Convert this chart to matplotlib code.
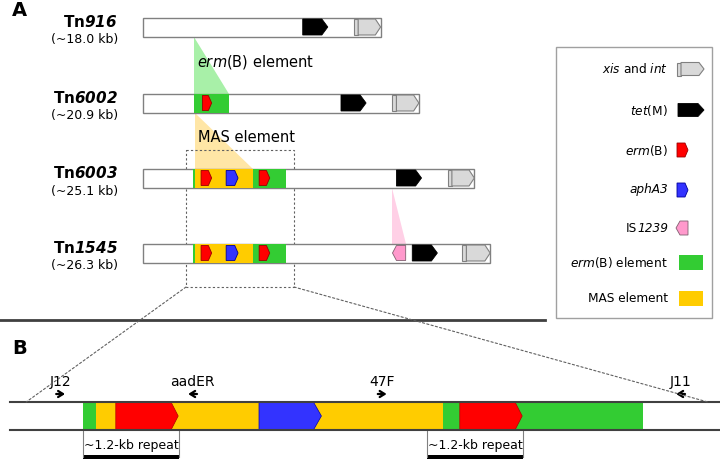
import matplotlib
matplotlib.use('Agg')
import matplotlib.pyplot as plt
from matplotlib.patches import Polygon, Rectangle
from matplotlib.patches import ConnectionPatch

plt.rcParams['font.family'] = 'DejaVu Sans'
plt.rcParams['mathtext.fontset'] = 'custom'
plt.rcParams['mathtext.rm'] = 'DejaVu Sans'
plt.rcParams['mathtext.it'] = 'DejaVu Sans:italic'
plt.rcParams['mathtext.bf'] = 'DejaVu Sans:bold'
plt.rcParams['mathtext.bfit'] = 'DejaVu Sans:italic:bold'

# ---- data (kb) ----
tn_names = ['916', '6002', '6003', '1545']
tn_sizes = [18.0, 20.9, 25.1, 26.3]
tetM_start = [12.1, 15.0, 19.2, 20.4]
tetM_len = 1.9
xis_start = [16.0, 18.9, 23.1, 24.2]
ermB_elem = [None, (3.86, 6.5), (3.79, 10.83), (3.79, 10.83)]
mas_elem = [None, None, (3.94, 8.33), (3.94, 8.33)]
ermB_genes = [[], [(4.5, 5.2)], [(4.4, 5.2), (8.8, 9.6)], [(4.4, 5.2), (8.8, 9.6)]]
aphA3_genes = [[], [], [(6.3, 7.2)], [(6.3, 7.2)]]
is1239_genes = [[], [], [], [(18.9, 19.9)]]
zoom_kb = (3.26, 11.44)

# panel B (kb, from left end of first repeat)
b_track = (-0.91, 7.96)
b_green = (0.0, 7.0)
b_yellow = (0.16, 4.5)
b_red = [(0.41, 1.19), (4.71, 5.49)]
b_blue = [(2.2, 2.98)]
primer_names = ['J12', 'aadER', '47F', 'J11']
primer_pos = [-0.28, 1.37, 3.74, 7.47]
primer_dir = [1, -1, 1, -1]
repeats = [(0.0, 1.2), (4.3, 5.5)]

# (roman prefix, italic part) for awkward labels handled separately below
legend_labels = [r'$\mathit{xis}$ and $\mathit{int}$', r'$\mathit{tet}$(M)', r'$\mathit{erm}$(B)',
                 ('', 'aphA3'), ('IS', '1239'), r'$\mathit{erm}$(B) element', 'MAS element']

GREEN = '#33cc33'
YELLOW = '#ffcc00'
RED = '#ff0000'
BLUE = '#3333ff'
PINK = '#ff99cc'
GREY = '#d9d9d9'

# ---- layout ----
W, H = 720, 459
A_X0, A_SCALE = 143, 13.2
B_X0, B_SCALE = 83, 80.0
row_y = [27, 103, 178, 253]
bar_h = 19
gene_h = 15

fig = plt.figure(figsize=(W / 100, H / 100), dpi=100)


def make_axes(x0, scale):
    a = fig.add_axes([0, 0, 1, 1])
    a.set_xlim(-x0 / scale, (W - x0) / scale)
    a.set_ylim(H, 0)
    a.axis('off')
    a.patch.set_visible(False)
    return a


ax = make_axes(0, 1.0)
axA = make_axes(A_X0, A_SCALE)
axB = make_axes(B_X0, B_SCALE)


def gene(a, x0, x1, yc, h, color, tip, direction=1, ec=None, lw=0.6, z=3):
    if direction > 0:
        pts = [(x0, yc - h / 2), (x1 - tip, yc - h / 2), (x1, yc), (x1 - tip, yc + h / 2), (x0, yc + h / 2)]
    else:
        pts = [(x1, yc - h / 2), (x0 + tip, yc - h / 2), (x0, yc), (x0 + tip, yc + h / 2), (x1, yc + h / 2)]
    a.add_patch(Polygon(pts, closed=True, fc=color, ec=ec if ec else color, lw=lw, zorder=z))


# ---- panel A ----
for i, name in enumerate(tn_names):
    y = row_y[i]
    axA.add_patch(Rectangle((0, y - bar_h / 2), tn_sizes[i], bar_h, fc='white', ec='#808080', lw=1, zorder=1))
    if ermB_elem[i]:
        e0, e1 = ermB_elem[i]
        axA.add_patch(Rectangle((e0, y - bar_h / 2), e1 - e0, bar_h, fc=GREEN, ec='none', zorder=2))
    if mas_elem[i]:
        m0, m1 = mas_elem[i]
        axA.add_patch(Rectangle((m0, y - bar_h / 2), m1 - m0, bar_h, fc=YELLOW, ec='none', zorder=2))
    for g0, g1 in ermB_genes[i]:
        gene(axA, g0, g1, y, gene_h, RED, 0.25, ec='#990000')
    for g0, g1 in aphA3_genes[i]:
        gene(axA, g0, g1, y, gene_h, BLUE, 0.25, ec='#000099')
    for g0, g1 in is1239_genes[i]:
        gene(axA, g0, g1, y, gene_h, PINK, 0.3, direction=-1, ec='#806070')
    gene(axA, tetM_start[i], tetM_start[i] + tetM_len, y, 16, 'black', 0.45)
    xs = xis_start[i]
    axA.add_patch(Rectangle((xs, y - 8), 0.3, 16, fc=GREY, ec='#808080', lw=0.8, zorder=3))
    gene(axA, xs + 0.3, tn_sizes[i], y, 16, GREY, 0.4, ec='#808080', lw=0.8)
    ax.text(118, y - 5, 'Tn$\\mathbfit{%s}$' % name, ha='right', va='center', fontsize=11, fontweight='bold')
    ax.text(118, y + 13, '(~%.1f kb)' % tn_sizes[i], ha='right', va='center', fontsize=9)

# insertion shading
def wedge(i_from, start, span, color):
    y0 = row_y[i_from] + bar_h / 2
    y1 = row_y[i_from + 1] - bar_h / 2
    axA.add_patch(Polygon([(start, y0), (start, y1), (start + span, y1)], closed=True,
                          fc=color, ec='none', zorder=0))

wedge(0, ermB_elem[1][0], ermB_elem[1][1] - ermB_elem[1][0], '#a8f0a8')
wedge(1, mas_elem[2][0], mas_elem[2][1] - mas_elem[2][0], '#ffe6a6')
wedge(2, is1239_genes[3][0][0], is1239_genes[3][0][1] - is1239_genes[3][0][0], '#ffd0e6')

axA.text(ermB_elem[1][0] + 0.25, 62, r'$\mathit{erm}$(B) element', fontsize=10.5, va='center')
axA.text(mas_elem[2][0] + 0.2, 138, 'MAS element', fontsize=10.5, va='center')

# zoom box
axA.add_patch(Rectangle((zoom_kb[0], 150), zoom_kb[1] - zoom_kb[0], 137, fill=False,
                        ec='#606060', lw=0.8, ls=(0, (2, 2)), zorder=0.5))

ax.text(12, 11, 'A', fontsize=14, fontweight='bold', va='center')
ax.text(12, 348, 'B', fontsize=14, fontweight='bold', va='center')
ax.plot([0, 545], [320, 320], color='#404040', lw=2)

# legend
ax.add_patch(Rectangle((556, 47), 156, 271, fill=False, ec='#a0a0a0', lw=1))
leg_y = [69, 110, 150, 190, 228, 262, 298]
for j, lab in enumerate(legend_labels):
    if isinstance(lab, tuple):
        t = ax.text(668, leg_y[j], lab[1], ha='right', va='center', fontsize=8.7, style='italic')
        if lab[0]:
            ax.annotate(lab[0], xy=(0, 0.5), xycoords=t, ha='right', va='center', fontsize=8.7)
    else:
        ax.text(668, leg_y[j], lab, ha='right', va='center', fontsize=8.7)
ly = leg_y
ax.add_patch(Rectangle((677, ly[0] - 6.5), 4, 13, fc=GREY, ec='#808080', lw=0.8))
gene(ax, 681, 704, ly[0], 13, GREY, 5, ec='#808080', lw=0.8)
gene(ax, 678, 704, ly[1], 13, 'black', 6)
gene(ax, 677, 688, ly[2], 14, RED, 3, ec='#990000')
gene(ax, 677, 688, ly[3], 14, BLUE, 3, ec='#000099')
gene(ax, 676, 688, ly[4], 14, PINK, 4, direction=-1, ec='#806070')
ax.add_patch(Rectangle((679, ly[5] - 7.5), 24, 15, fc=GREEN, ec='none'))
ax.add_patch(Rectangle((679, ly[6] - 7.5), 24, 15, fc=YELLOW, ec='none'))

# ---- panel B ----
tb, bb = 402, 430
axB.add_patch(Rectangle((b_green[0], tb), b_green[1] - b_green[0], bb - tb, fc=GREEN, ec='none', zorder=1))
axB.add_patch(Rectangle((b_yellow[0], tb), b_yellow[1] - b_yellow[0], bb - tb, fc=YELLOW, ec='none', zorder=1))
for g0, g1 in b_red:
    gene(axB, g0, g1, (tb + bb) / 2, bb - tb, RED, 0.09, ec='#b00000', lw=0.5)
for g0, g1 in b_blue:
    gene(axB, g0, g1, (tb + bb) / 2, bb - tb, BLUE, 0.1, ec='#0000b0', lw=0.5)
axB.plot(b_track, [tb, tb], color='#404040', lw=1.5, zorder=4)
axB.plot(b_track, [bb, bb], color='#404040', lw=1.5, zorder=4)

for name, p, d in zip(primer_names, primer_pos, primer_dir):
    axB.annotate('', xy=(p + d * 0.09, 394), xytext=(p - d * 0.09, 394),
                 arrowprops=dict(arrowstyle='->,head_length=0.35,head_width=0.22', color='black', lw=1.6))
    axB.text(p, 382, name, ha='center', va='center', fontsize=10)

for r0, r1 in repeats:
    axB.plot([r0, r0], [bb, 457], color='#808080', lw=0.8)
    axB.plot([r1, r1], [bb, 457], color='#808080', lw=0.8)
    axB.add_patch(Rectangle((r0, 455), r1 - r0, 6, fc='black', ec='none'))
    axB.text((r0 + r1) / 2, 446, '~1.2-kb repeat', ha='center', va='center', fontsize=9)

# connection lines from zoom box to panel B
for xa, xb in [(zoom_kb[0], b_track[0] + 0.2), (zoom_kb[1], b_track[1] - 0.15)]:
    con = ConnectionPatch(xyA=(xa, 287), coordsA=axA.transData, xyB=(xb, tb), coordsB=axB.transData,
                          color='#606060', lw=0.8, ls=(0, (2, 2)))
    fig.add_artist(con)

fig.savefig('out.png', dpi=100)
plt.close(fig)
